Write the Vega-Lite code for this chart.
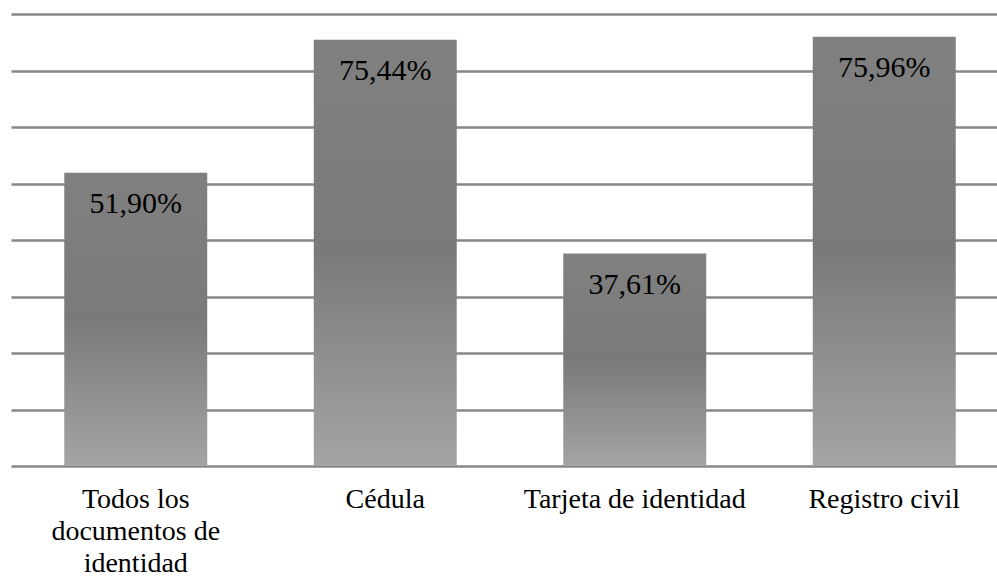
{
  "$schema": "https://vega.github.io/schema/vega-lite/v6.json",
  "width": 986,
  "height": 452,
  "padding": {"left": 11, "top": 14, "right": 0, "bottom": 0},
  "background": "white",
  "config": {"view": {"stroke": null}},
  "data": {
    "values": [
      {"cat": "Todos los documentos de identidad", "value": 51.90, "label": "51,90%"},
      {"cat": "Cédula", "value": 75.44, "label": "75,44%"},
      {"cat": "Tarjeta de identidad", "value": 37.61, "label": "37,61%"},
      {"cat": "Registro civil", "value": 75.96, "label": "75,96%"}
    ]
  },
  "encoding": {
    "x": {
      "field": "cat",
      "type": "nominal",
      "sort": null,
      "scale": {"paddingInner": 0.427, "paddingOuter": 0.2135, "range": [0, 998]},
      "axis": {
        "title": null,
        "labelAngle": 0,
        "ticks": false,
        "domain": false,
        "labelFont": "'Liberation Serif', 'Times New Roman', serif",
        "labelFontSize": 28,
        "labelColor": "#000000",
        "labelPadding": 19,
        "labelLineHeight": 32,
        "labelLimit": 0,
        "labelBaseline": "top",
        "labelExpr": "datum.value == 'Todos los documentos de identidad' ? ['Todos los', 'documentos de', 'identidad'] : datum.value"
      }
    },
    "y": {
      "field": "value",
      "type": "quantitative",
      "scale": {"domain": [0, 80], "nice": false},
      "axis": {
        "title": null,
        "labels": false,
        "ticks": false,
        "domain": false,
        "values": [0, 10, 20, 30, 40, 50, 60, 70, 80],
        "grid": true,
        "gridColor": "#878787",
        "gridWidth": 2.5
      }
    }
  },
  "layer": [
    {
      "mark": {
        "type": "bar",
        "color": {
          "gradient": "linear",
          "x1": 0, "y1": 0, "x2": 0, "y2": 1,
          "stops": [
            {"offset": 0, "color": "#808080"},
            {"offset": 0.5, "color": "#7a7a7a"},
            {"offset": 1, "color": "#a4a4a4"}
          ]
        }
      }
    },
    {
      "mark": {
        "type": "text",
        "baseline": "middle",
        "align": "center",
        "dy": 31,
        "font": "'Liberation Serif', 'Times New Roman', serif",
        "fontSize": 30,
        "color": "#000000"
      },
      "encoding": {"text": {"field": "label"}}
    }
  ]
}
